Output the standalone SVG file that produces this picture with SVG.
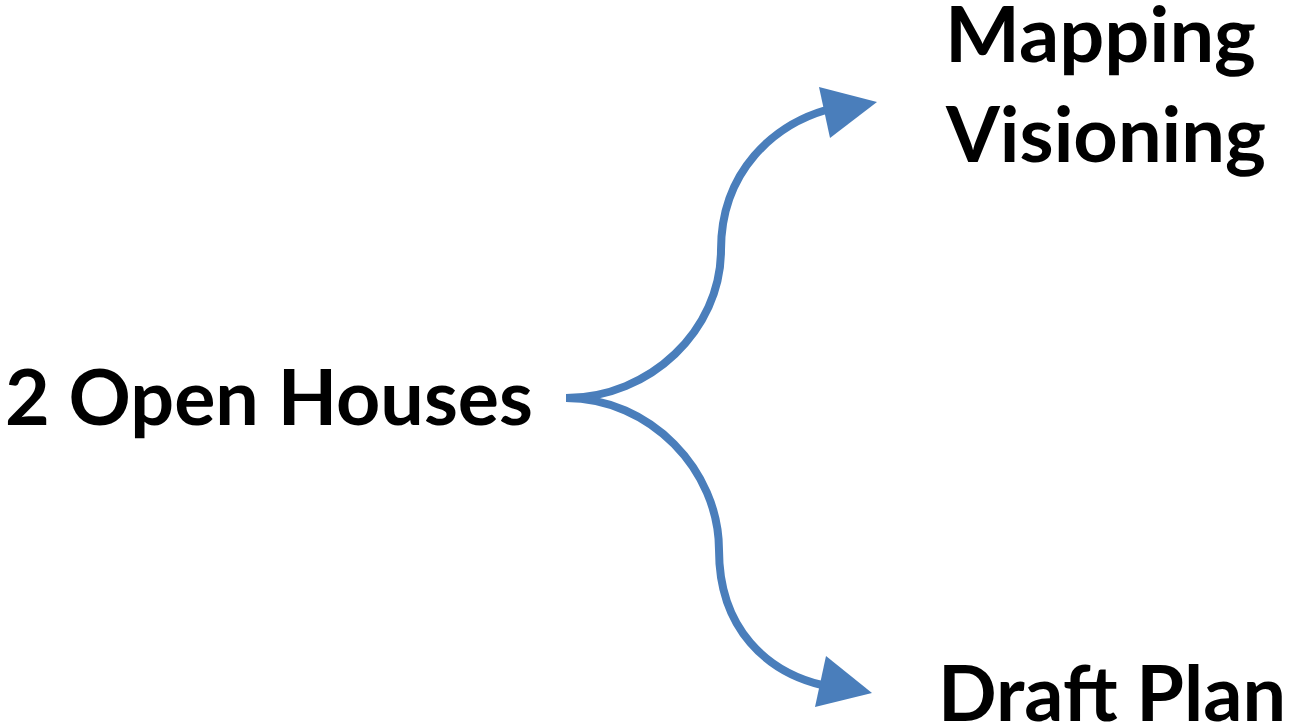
<svg xmlns="http://www.w3.org/2000/svg" width="1291" height="728" viewBox="0 0 1291 728">
<style>
.lbl{font-family:Lato,"Liberation Sans",sans-serif;font-weight:bold;font-size:76px;fill:#000}
.conn{fill:none;stroke:#4a7ebb;stroke-width:8}
.head{fill:#4a7ebb}
</style>
<rect width="1291" height="728" fill="#fff"/>
<g id="connectors">
<path class="conn" d="M566,398 C650,398 721,330 721,250 C721,170 775,125 826,110"/>
<polygon class="head" points="819,87 877,102 830,138"/>
<path class="conn" d="M566,398 C650,398 719,470 719,550 C719,630 768,672 822,685"/>
<polygon class="head" points="826,656 872,693 815,707"/>
</g>
<g id="node-open-houses"><text class="lbl" x="5" y="425" textLength="528" lengthAdjust="spacingAndGlyphs">2 Open Houses</text></g>
<g id="node-mapping"><text class="lbl" x="945" y="62" textLength="311" lengthAdjust="spacingAndGlyphs">Mapping</text><text class="lbl" x="946" y="162" textLength="320" lengthAdjust="spacingAndGlyphs">Visioning</text></g>
<g id="node-draft"><text class="lbl" x="938" y="721" textLength="348" lengthAdjust="spacingAndGlyphs">Draft Plan</text></g>
</svg>
